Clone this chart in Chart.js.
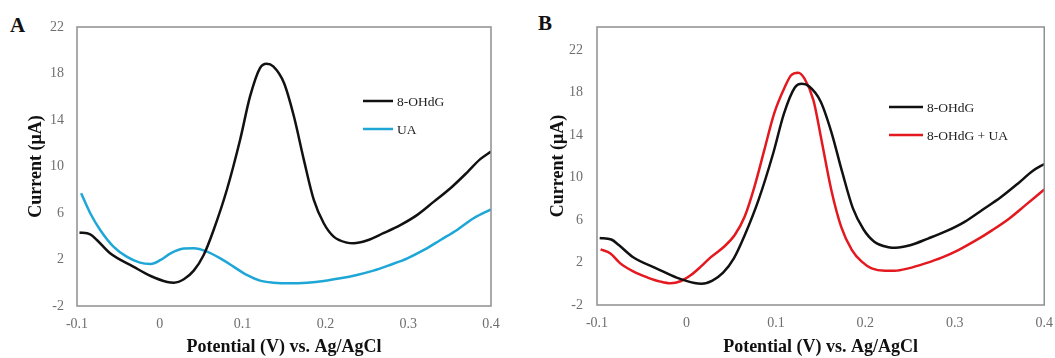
<!DOCTYPE html>
<html>
<head>
<meta charset="utf-8">
<script src="https://cdn.jsdelivr.net/npm/chart.js@4.4.0/dist/chart.umd.min.js"></script>
<style>
  body { margin: 0; background: #fff; width: 1055px; height: 358px; overflow: hidden; position: relative; font-family: "Liberation Serif", "Times New Roman", serif; }
  .panel { position: absolute; top: 0; height: 358px; }
  #panelA { left: 0; width: 522px; }
  #panelB { left: 530px; width: 525px; }
  .tag { position: absolute; font-weight: bold; font-size: 21px; color: #111; }
</style>
</head>
<body>
<div class="tag" style="left:10px;top:13px">A</div>
<div class="tag" style="left:538px;top:11px">B</div>
<div class="panel" id="panelA"><canvas id="chartA"></canvas></div>
<div class="panel" id="panelB"><canvas id="chartB"></canvas></div>
<script>
// ── Data ──
const xTicks = [-0.1, 0, 0.1, 0.2, 0.3, 0.4];
const yTicks = [-2, 2, 6, 10, 14, 18, 22];

// 8-OHdG (black)
const ohdgX = [-0.097, -0.084, -0.076, -0.06, -0.032, -0.011, 0.009, 0.017, 0.029, 0.041, 0.053, 0.065, 0.081, 0.097, 0.109, 0.121, 0.129, 0.137, 0.15, 0.162, 0.174, 0.186, 0.198, 0.21, 0.226, 0.234, 0.25, 0.27, 0.291, 0.311, 0.331, 0.351, 0.371, 0.387, 0.4];
const ohdgY = [4.32, 4.17, 3.68, 2.53, 1.39, 0.58, 0.07, 0.01, 0.3, 1.04, 2.39, 4.54, 8.0, 12.3, 16.03, 18.47, 18.84, 18.61, 17.18, 14.3, 10.57, 7.13, 5.12, 3.97, 3.45, 3.4, 3.63, 4.26, 4.98, 5.84, 6.98, 8.13, 9.48, 10.63, 11.29];

// UA (blue)
const uaX = [-0.095, -0.084, -0.072, -0.056, -0.04, -0.024, -0.011, 0.001, 0.013, 0.029, 0.041, 0.057, 0.073, 0.089, 0.105, 0.121, 0.137, 0.158, 0.178, 0.198, 0.218, 0.238, 0.258, 0.278, 0.299, 0.319, 0.339, 0.359, 0.379, 0.4];
const uaY = [7.7, 5.98, 4.54, 3.11, 2.25, 1.73, 1.62, 1.96, 2.53, 2.94, 2.97, 2.68, 2.1, 1.39, 0.67, 0.18, 0.01, -0.05, 0.01, 0.15, 0.38, 0.67, 1.04, 1.53, 2.1, 2.82, 3.68, 4.54, 5.55, 6.32];

// 8-OHdG + UA (red)
const mixX = [-0.096, -0.085, -0.074, -0.059, -0.044, -0.029, -0.018, -0.006, 0.005, 0.016, 0.027, 0.042, 0.054, 0.065, 0.076, 0.087, 0.098, 0.11, 0.117, 0.125, 0.132, 0.142, 0.151, 0.162, 0.173, 0.185, 0.196, 0.207, 0.222, 0.233, 0.248, 0.267, 0.286, 0.304, 0.323, 0.342, 0.361, 0.379, 0.4];
const mixY = [3.24, 2.86, 1.92, 1.14, 0.61, 0.2, 0.04, 0.26, 0.82, 1.61, 2.49, 3.49, 4.59, 6.31, 9.14, 12.59, 16.04, 18.55, 19.65, 19.9, 19.33, 17.29, 13.53, 8.82, 5.37, 3.18, 2.08, 1.45, 1.23, 1.23, 1.45, 1.92, 2.49, 3.18, 4.06, 5.06, 6.16, 7.41, 8.89];

const zip = (xs, ys) => xs.map((x, i) => ({ x, y: ys[i] }));
const SERIF = '"Liberation Serif", "Times New Roman", serif';

// ── Plot frame (grey box around the chart area) ──
const framePlugin = {
  id: 'frame',
  afterDraw(chart) {
    const { ctx, chartArea: a } = chart;
    ctx.save();
    ctx.strokeStyle = '#8f8f8f';
    ctx.lineWidth = 1.5;
    ctx.strokeRect(a.left, a.top, a.right - a.left, a.bottom - a.top);
    ctx.restore();
  }
};

// ── Legend drawn inside the plot ──
const inlineLegend = {
  id: 'inlineLegend',
  afterDraw(chart, args, opts) {
    const { ctx } = chart;
    ctx.save();
    ctx.font = '13.5px ' + SERIF;
    ctx.textBaseline = 'middle';
    chart.data.datasets.forEach((ds, i) => {
      const y = opts.y + i * opts.gap;
      ctx.strokeStyle = ds.borderColor;
      ctx.lineWidth = 2.5;
      ctx.beginPath();
      ctx.moveTo(opts.x, y);
      ctx.lineTo(opts.x + opts.len, y);
      ctx.stroke();
      ctx.fillStyle = '#222';
      ctx.fillText(ds.label, opts.x + opts.len + 4, y + 1);
    });
    ctx.restore();
  }
};

function makeChart(id, datasets, cfg) {
  return new Chart(document.getElementById(id), {
    type: 'line',
    data: { datasets },
    plugins: [framePlugin, inlineLegend],
    options: {
      responsive: true,
      maintainAspectRatio: false,
      animation: false,
      layout: { padding: { top: 27, right: cfg.padRight, bottom: 0, left: 0 } },
      elements: {
        point: { radius: 0 },
        line: { borderWidth: 2.5, cubicInterpolationMode: 'monotone' }
      },
      plugins: {
        legend: { display: false },
        tooltip: { enabled: false },
        inlineLegend: cfg.legend
      },
      scales: {
        x: {
          type: 'linear',
          min: -0.1,
          max: 0.4,
          grid: { display: false },
          border: { display: false },
          afterBuildTicks: s => { s.ticks = xTicks.map(v => ({ value: v })); },
          afterFit: s => { s.height = cfg.xHeight; },
          ticks: {
            color: '#6e6e6e',
            font: { family: SERIF, size: 14 },
            padding: 2,
            maxRotation: 0,
            callback: v => String(Math.round(v * 10) / 10)
          },
          title: {
            display: true,
            text: 'Potential (V) vs. Ag/AgCl',
            color: '#111',
            font: { family: SERIF, size: 18, weight: 'bold' },
            padding: { top: 0, bottom: 0 }
          }
        },
        y: {
          min: -2,
          max: cfg.yMax,
          grid: { display: false },
          border: { display: false },
          afterBuildTicks: s => { s.ticks = yTicks.map(v => ({ value: v })); },
          afterFit: s => { s.width = cfg.yWidth; },
          ticks: {
            color: '#6e6e6e',
            font: { family: SERIF, size: 14 },
            padding: cfg.tickPad
          },
          title: {
            display: true,
            text: 'Current (μA)',
            color: '#111',
            font: { family: SERIF, size: 18, weight: 'bold' },
            padding: { top: cfg.titlePad, bottom: 0 }
          }
        }
      }
    }
  });
}

// ── Panel A ──
makeChart('chartA', [
  { label: '8-OHdG', data: zip(ohdgX, ohdgY), borderColor: '#111111' },
  { label: 'UA', data: zip(uaX, uaY), borderColor: '#1ea7d6' }
], { yMax: 22, yWidth: 77, padRight: 31, xHeight: 52, tickPad: 5, titlePad: 26,
     legend: { x: 363, y: 101, gap: 28, len: 30 } });

// ── Panel B ──
makeChart('chartB', [
  { label: '8-OHdG', data: zip(ohdgX, ohdgY), borderColor: '#111111' },
  { label: '8-OHdG + UA', data: zip(mixX, mixY), borderColor: '#e3191f' }
], { yMax: 24.2, yWidth: 67, padRight: 9, xHeight: 53, tickPad: 6, titlePad: 18,
     legend: { x: 359, y: 107, gap: 28, len: 34 } });
</script>
</body>
</html>
